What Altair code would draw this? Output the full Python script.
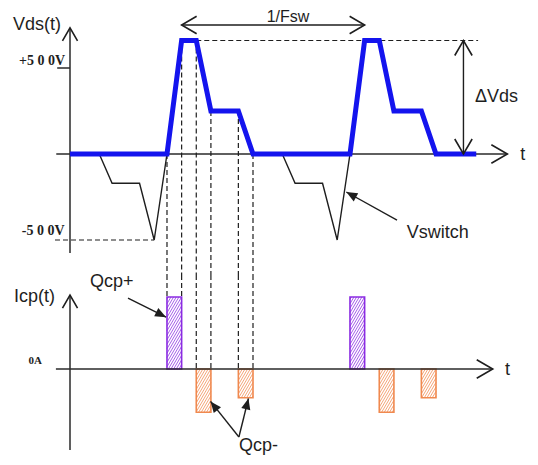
import math
import altair as alt
import pandas as pd

# ---------------- data ----------------
# Vds(t) waveform (thick blue), time in arbitrary units (one period = 10)
vds_t = [0, 5.3, 6.1, 6.9, 7.7, 9.2, 10.0, 15.3, 16.1, 16.9, 17.7, 19.2, 20.0, 22.2]
vds_v = [0, 0, 660, 660, 250, 250, 0, 0, 660, 660, 250, 250, 0, 0]

# Vswitch waveform (thin black), two cycles
sw_t = [1.6, 2.3, 3.8, 4.6, 5.3, 11.6, 12.3, 13.8, 14.6, 15.3]
sw_v = [0, -170, -170, -500, 0, 0, -170, -170, -500, 0]
sw_cycle = [1, 1, 1, 1, 1, 2, 2, 2, 2, 2]

# Icp(t) current pulses
q_start = [5.3, 6.9, 9.2, 15.3, 16.9, 19.2]
q_end = [6.1, 7.7, 10.0, 16.1, 17.7, 20.0]
q_amp = [2.0, -1.2, -0.8, 2.0, -1.2, -0.8]
q_kind = ["Qcp+", "Qcp-", "Qcp-", "Qcp+", "Qcp-", "Qcp-"]

# dashed guide lines between Vds transitions and current pulses
guide_t = [5.3, 6.1, 6.9, 7.7, 9.2, 10.0]
guide_v = [0, 660, 660, 250, 250, 0]
guide_i = [2.0, 2.0, 0, 0, 0, 0]

# voltage tick labels
tick_values = [500, -500]
tick_labels = ["+5 0 0V", "-5 0 0V"]

# ---------------- drawing geometry ----------------
X_ORIGIN, X_PER_T = 62.0, 18.3
V_ZERO, V_PER_V = 146.0, 0.172
I_ZERO, I_PER_A = 361.0, 36.0


def xpx(t):
    return X_ORIGIN + t * X_PER_T


def vpx(v):
    return V_ZERO - v * V_PER_V


def ipx(i):
    return I_ZERO - i * I_PER_A


def t_of(x):
    return (x - X_ORIGIN) / X_PER_T


def v_of(y):
    return (V_ZERO - y) / V_PER_V


def i_of(y):
    return (I_ZERO - y) / I_PER_A


XS = alt.Scale(domain=[0, 10], range=[xpx(0), xpx(10)], nice=False, zero=False)
VS = alt.Scale(domain=[-500, 500], range=[vpx(-500), vpx(500)], nice=False, zero=False)
IS = alt.Scale(domain=[-1, 1], range=[ipx(-1), ipx(1)], nice=False, zero=False)

BLUE = "#1414ee"
PURPLE = "#8a2be2"
ORANGE = "#f0894f"
INK = "#1e1e1e"
SANS = "Liberation Sans"
SERIF = "Liberation Serif"

SPLIT_PX = 267.0
v_split = v_of(SPLIT_PX)
i_split = i_of(SPLIT_PX)


def X(f="t"):
    return alt.X(f + ":Q", scale=XS, axis=None)


def YV(f="y"):
    return alt.Y(f + ":Q", scale=VS, axis=None)


def YI(f="y"):
    return alt.Y(f + ":Q", scale=IS, axis=None)


def segs(rows):
    return pd.DataFrame(rows, columns=["t", "y", "t2", "y2"])


def rules(df, Y, **kw):
    return alt.Chart(df).mark_rule(**kw).encode(
        x=X("t"), x2=alt.X2("t2:Q"), y=Y("y"), y2=alt.Y2("y2:Q"))


def heads(rows, Y, ypx, filled):
    out = []
    for tip_t, tip_y, from_t, from_y, length in rows:
        dx = xpx(tip_t) - xpx(from_t)
        dy = ypx(tip_y) - ypx(from_y)
        ang = math.degrees(math.atan2(dx, -dy)) % 360
        out.append(dict(t=tip_t, y=tip_y, angle=ang, size=(2 * length) ** 2))
    df = pd.DataFrame(out)
    if filled:
        mk = alt.Chart(df).mark_point(shape="M-0.42,1L0,0L0.42,1Z", filled=True,
                                      opacity=1, color=INK, strokeWidth=0)
    else:
        mk = alt.Chart(df).mark_point(shape="M-0.58,1L0,0L0.58,1", filled=False,
                                      opacity=1, color=INK, strokeWidth=1.6)
    return mk.encode(x=X("t"), y=Y("y"),
                     angle=alt.Angle("angle:Q", scale=None),
                     size=alt.Size("size:Q", scale=None))


def texts(rows, Y, align, font, size, weight="normal", baseline="alphabetic"):
    df = pd.DataFrame(rows, columns=["t", "y", "label"])
    return alt.Chart(df).mark_text(align=align, baseline=baseline, font=font,
                                   fontSize=size, fontWeight=weight, color=INK).encode(
        x=X("t"), y=Y("y"), text="label:N")


# ---------------- top panel: Vds(t) ----------------
blue_df = pd.DataFrame({"t": vds_t, "y": vds_v, "i": range(len(vds_t))})
sw_df = pd.DataFrame({"t": sw_t, "y": sw_v, "cycle": sw_cycle, "i": range(len(sw_t))})

top_axes = rules(segs([(0, -575, 0, 733), (-0.75, 0, 23.9, 0),
                       (-0.7, tick_values[0], 0, tick_values[0])]),
                 YV, color="#2a2a2a", strokeWidth=1.5)
top_dash = rules(segs([(6.9, max(vds_v), 22.3, max(vds_v)),
                       (-0.82, tick_values[1], 4.6, tick_values[1])]
                      + [(gt, gv, gt, v_split) for gt, gv in zip(guide_t, guide_v)]),
                 YV, color=INK, strokeWidth=1.2, strokeDash=[5, 3])
sw_line = alt.Chart(sw_df).mark_line(color=INK, strokeWidth=1.4).encode(
    x=X("t"), y=YV("y"), detail="cycle:N", order="i:Q")
blue_line = alt.Chart(blue_df).mark_line(color=BLUE, strokeWidth=5).encode(
    x=X("t"), y=YV("y"), order="i:Q")
top_arrows = rules(segs([(6.1, 750, 16.1, 750), (21.5, 0, 21.5, 660),
                         (17.87, -384, 15.1, -221)]),
                   YV, color=INK, strokeWidth=1.4)
top_open = heads([(0, 733, 0, 0, 13), (23.9, 0, 0, 0, 16),
                  (6.1, 750, 16.1, 750, 15), (16.1, 750, 6.1, 750, 15),
                  (21.5, 660, 21.5, 0, 15), (21.5, 0, 21.5, 660, 15)],
                 YV, vpx, filled=False)
top_filled = heads([(15.1, -221, 17.87, -384, 11)], YV, vpx, filled=True)
top_sans = texts([(-3.11, 721, "Vds(t)"), (22.13, 302, "ΔVds"),
                  (18.4, -488, "Vswitch"), (24.6, -35, "t")],
                 YV, "left", SANS, 18)
fsw_text = texts([(10.75, 844, "1/Fsw")], YV, "left", SANS, 16, baseline="top")
top_serif = texts([(-0.27, 517, tick_labels[0]), (-0.3, -471, tick_labels[1])],
                  YV, "right", SERIF, 14, "bold")

top = alt.layer(top_axes, top_dash, sw_line, blue_line, top_arrows,
                top_open, top_filled, top_sans, fsw_text, top_serif)

# ---------------- bottom panel: Icp(t) ----------------
bar_df = pd.DataFrame({"t": q_start, "t2": q_end, "y": [0] * len(q_amp),
                       "y2": q_amp, "kind": q_kind})
kind_scale = alt.Scale(domain=["Qcp+", "Qcp-"], range=[PURPLE, ORANGE])

hatch_rows = []
SLOPE, STEP = 1.7, 4.5
for s, e, a, k in zip(q_start, q_end, q_amp, q_kind):
    x0, x1 = xpx(s), xpx(e)
    ytop, ybot = min(ipx(0), ipx(a)), max(ipx(0), ipx(a))
    c = ytop + STEP / 2
    while c < ybot + SLOPE * (x1 - x0):
        xa = max(x0, x0 + (c - ybot) / SLOPE)
        xb = min(x1, x0 + (c - ytop) / SLOPE)
        if xb > xa + 0.3:
            hatch_rows.append(dict(t=t_of(xa), y=i_of(c - SLOPE * (xa - x0)),
                                   t2=t_of(xb), y2=i_of(c - SLOPE * (xb - x0)), kind=k))
        c += STEP
hatch_df = pd.DataFrame(hatch_rows)

bot_dash = rules(segs([(gt, i_split, gt, gi) for gt, gi in zip(guide_t, guide_i)]),
                 YI, color=INK, strokeWidth=1.2, strokeDash=[5, 3])
hatch = alt.Chart(hatch_df).mark_rule(strokeWidth=0.9, opacity=0.85).encode(
    x=X("t"), x2=alt.X2("t2:Q"), y=YI("y"), y2=alt.Y2("y2:Q"),
    stroke=alt.Stroke("kind:N", scale=kind_scale, legend=None))
bars = alt.Chart(bar_df).mark_rect(fillOpacity=0, strokeWidth=1.6).encode(
    x=X("t"), x2=alt.X2("t2:Q"), y=YI("y"), y2=alt.Y2("y2:Q"),
    stroke=alt.Stroke("kind:N", scale=kind_scale, legend=None))
bot_axes = rules(segs([(0, -2.25, 0, 2.05), (-0.77, 0, 23.1, 0)]),
                 YI, color="#2a2a2a", strokeWidth=1.5)
bot_arrows = rules(segs([(3.17, 1.97, 5.25, 1.44), (9.23, -1.89, 7.68, -0.9),
                         (9.23, -1.89, 9.75, -0.82)]),
                   YI, color=INK, strokeWidth=1.4)
bot_open = heads([(0, 2.05, 0, 0, 13), (23.1, 0, 0, 0, 16)], YI, ipx, filled=False)
bot_filled = heads([(5.25, 1.44, 3.17, 1.97, 11), (7.68, -0.9, 9.23, -1.89, 11),
                    (9.75, -0.82, 9.23, -1.89, 11)], YI, ipx, filled=True)
bot_sans = texts([(-3.06, 1.86, "Icp(t)"), (1.09, 2.28, "Qcp+"),
                  (9.23, -2.29, "Qcp-"), (23.77, -0.17, "t")],
                 YI, "left", SANS, 18)
bot_serif = texts([(-1.53, 0.14, "0A")], YI, "right", SERIF, 11, "bold")

bottom = alt.layer(bot_dash, hatch, bars, bot_axes, bot_arrows,
                   bot_open, bot_filled, bot_sans, bot_serif)

chart = alt.layer(top, bottom).resolve_scale(y="independent").properties(
    width=522, height=449, padding=0,
    autosize=alt.AutoSizeParams(type="none"),
).configure_view(stroke=None)

chart.save("out.html", embed_options={"renderer": "svg", "actions": False})
